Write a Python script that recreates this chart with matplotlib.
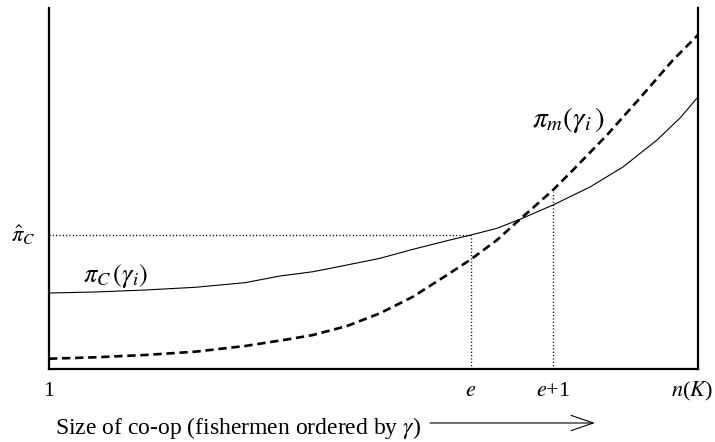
import matplotlib
matplotlib.use("Agg")
import matplotlib.pyplot as plt

plt.rcParams['font.family'] = ['Liberation Serif', 'DejaVu Serif']
plt.rcParams['mathtext.fontset'] = 'stix'
plt.rcParams['lines.scale_dashes'] = False

# x: position along ordered fishermen (0 = first, 100 = n(K)); y: profit (arbitrary units)
x_c = [0, 7.09, 14.79, 22.50, 30.20, 35.59, 40.68, 45.92, 51.00, 56.09, 61.33, 65.02,
       69.03, 72.57, 77.66, 83.36, 88.44, 93.68, 97.23, 100]
y_c = [21.05, 21.33, 21.88, 22.63, 23.91, 25.76, 26.95, 28.81, 30.66, 33.16, 35.54, 37.12,
       38.98, 41.47, 45.43, 50.42, 55.96, 63.43, 69.53, 75.35]

x_m = [0, 7.09, 14.79, 22.50, 30.20, 37.13, 40.68, 45.92, 51.00, 56.09, 61.33, 65.02,
       69.03, 72.57, 77.66, 80.74, 85.98, 91.06, 96.15, 100]
y_m = [2.85, 3.24, 3.88, 4.79, 6.37, 8.31, 9.42, 11.91, 15.43, 20.03, 26.04, 30.39,
       35.73, 41.47, 49.58, 55.12, 64.82, 75.07, 85.60, 92.52]

e_pos = 65.0
e1_pos = 77.7
pi_hat = 37.1
pi_m_e1 = 49.0

tick_pos = [0, e_pos, e1_pos, 100]
tick_labels = ['1', '$e$', '$e$+1', '$n$($K$)']

fig = plt.figure(figsize=(7.15, 4.42), dpi=100)
ax = fig.add_axes([49/715, 1-369/442, 649/715, 361/442])
ax.set_xlim(0, 100)
ax.set_ylim(0, 100)

ax.plot(x_c, y_c, color='black', lw=0.8)
ax.plot(x_m, y_m, color='black', lw=1.9, dashes=(6.0, 3.4))

dot = (0.8, 1.6)
ax.plot([0, e_pos], [pi_hat, pi_hat], color='black', lw=1.0, dashes=dot)
ax.plot([e_pos, e_pos], [0, pi_hat], color='black', lw=1.0, dashes=dot)
ax.plot([e1_pos, e1_pos], [0, pi_m_e1], color='black', lw=1.0, dashes=dot)

for s in ['left', 'bottom', 'right']:
    ax.spines[s].set_linewidth(1.6)
ax.spines['top'].set_visible(False)
ax.set_xticks([])
ax.set_yticks([])

trans = ax.get_xaxis_transform()
for p, lab in zip(tick_pos[:-1], tick_labels[:-1]):
    ax.text(p, -0.075, lab, transform=trans, ha='center', va='baseline', fontsize=16)
ax.text(1.023, -0.075, tick_labels[-1], transform=ax.transAxes, ha='right',
        va='baseline', fontsize=16)

ax.text(-0.04, pi_hat, r'$\hat{\pi}_C$', transform=ax.get_yaxis_transform(),
        ha='center', va='center', fontsize=16)
ax.text(5.2, 25.8, r'$\pi_C\,(\gamma_i)$', ha='left', va='center', fontsize=19)
ax.text(74.4, 69.0, r'$\pi_m(\gamma_i\,)$', ha='left', va='center', fontsize=21)

fig.text(55/715, 1-434/442, r'Size of co-op (fishermen ordered by $\gamma$)',
         ha='left', va='baseline', fontsize=17)
fig.add_artist(matplotlib.patches.FancyArrowPatch(
    (430/715, 1-423/442), (595/715, 1-423/442), transform=fig.transFigure,
    arrowstyle='->,head_length=1.6,head_width=0.55', lw=0.8, color='black',
    mutation_scale=10, shrinkA=0, shrinkB=0))

fig.savefig('out.png', dpi=100)
